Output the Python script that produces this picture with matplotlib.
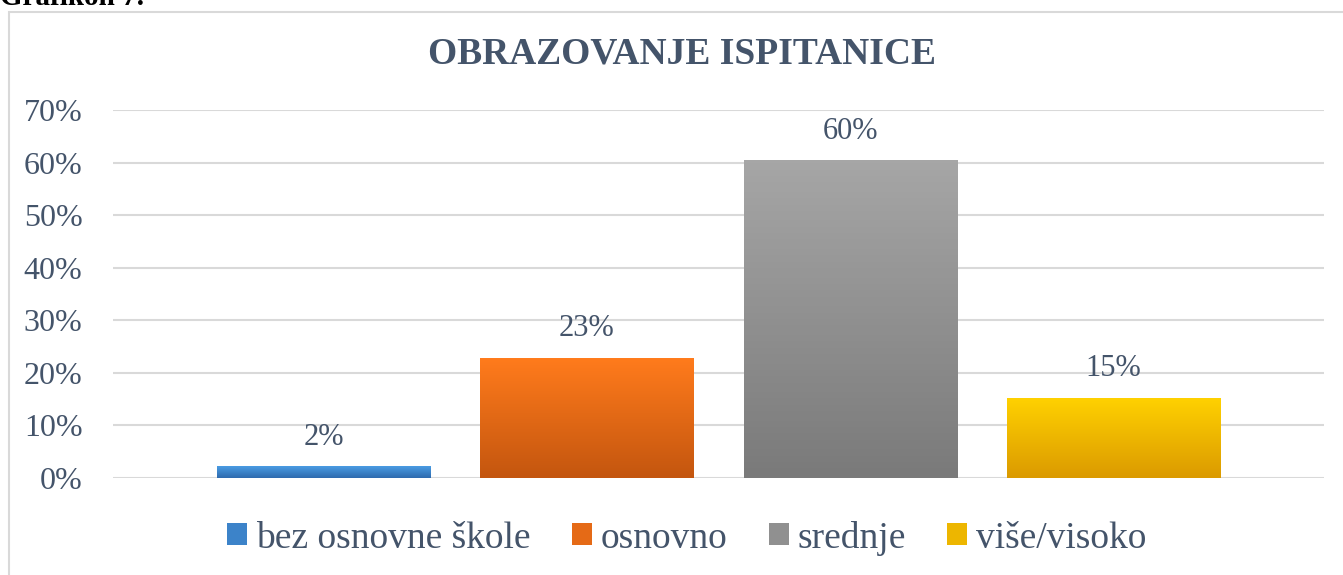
import numpy as np
import matplotlib.pyplot as plt
from matplotlib.patches import Rectangle, Patch

plt.rcParams['font.family'] = ['Liberation Serif', 'DejaVu Serif']

categories = ['bez osnovne škole', 'osnovno', 'srednje', 'više/visoko']
values = [0.021, 0.228, 0.604, 0.152]
labels = ['2%', '23%', '60%', '15%']
top_colors = ['#4A9BE3', '#FF7B1C', '#A6A6A6', '#FFD100']
bottom_colors = ['#2E6BAE', '#C4560F', '#7A7A7A', '#DB9A00']
mid_colors = ['#3C83C9', '#E56A16', '#909090', '#EDB600']
yticks = np.arange(0, 0.71, 0.1)

txt = '#44546A'

fig = plt.figure(figsize=(13.43, 5.75), dpi=100)
fig.patches.append(Rectangle((9 / 1343, -0.1), 1.2, 1 - 12 / 575 + 0.1,
                             transform=fig.transFigure, fill=False,
                             edgecolor='#D9D9D9', linewidth=1.5))
fig.text(0.0, 1 - 5 / 575, 'Grafikon 7.', fontsize=21, fontweight='bold',
         color='black', va='baseline', ha='left')

ax = fig.add_axes([113 / 1343, 1 - 478 / 575, 1211 / 1343, 368 / 575])
x = np.arange(len(categories))
w = 0.81
bars = ax.bar(x, values, width=w, color='none', zorder=3)
for i, b in enumerate(bars):
    c1 = np.array(plt.matplotlib.colors.to_rgb(top_colors[i]))
    c2 = np.array(plt.matplotlib.colors.to_rgb(bottom_colors[i]))
    t = np.linspace(0, 1, 100)[:, None]
    grad = (c1 * (1 - t) + c2 * t)[:, None, :]
    ax.imshow(grad, extent=[b.get_x(), b.get_x() + w, 0, values[i]],
              aspect='auto', origin='upper', zorder=3)
    ax.text(x[i], values[i] + 0.028, labels[i], ha='center', va='bottom',
            fontsize=22, color=txt)

ax.set_xlim(-0.80, 3.80)
ax.set_ylim(0, 0.7)
ax.set_yticks(yticks)
ax.set_yticklabels([f'{int(round(v * 100))}%' for v in yticks], fontsize=23, color=txt)
ax.set_xticks([])
ax.tick_params(axis='y', length=0, pad=22)
ax.grid(axis='y', color='#D9D9D9', linewidth=1.5, zorder=0)
for s in ax.spines.values():
    s.set_visible(False)
fig.text(682 / 1343, 1 - 54 / 575, 'OBRAZOVANJE ISPITANICE', fontsize=27,
         fontweight='bold', color=txt, ha='center', va='center')

handles = [Patch(facecolor=mid_colors[i], label=categories[i]) for i in range(4)]
fig.legend(handles=handles, loc='center', bbox_to_anchor=(687 / 1343, 1 - 538 / 575),
           ncol=4, frameon=False, fontsize=27, labelcolor=txt,
           handlelength=0.53, handleheight=0.53, handletextpad=0.24, columnspacing=1.1)

fig.savefig('out.png', dpi=100)
